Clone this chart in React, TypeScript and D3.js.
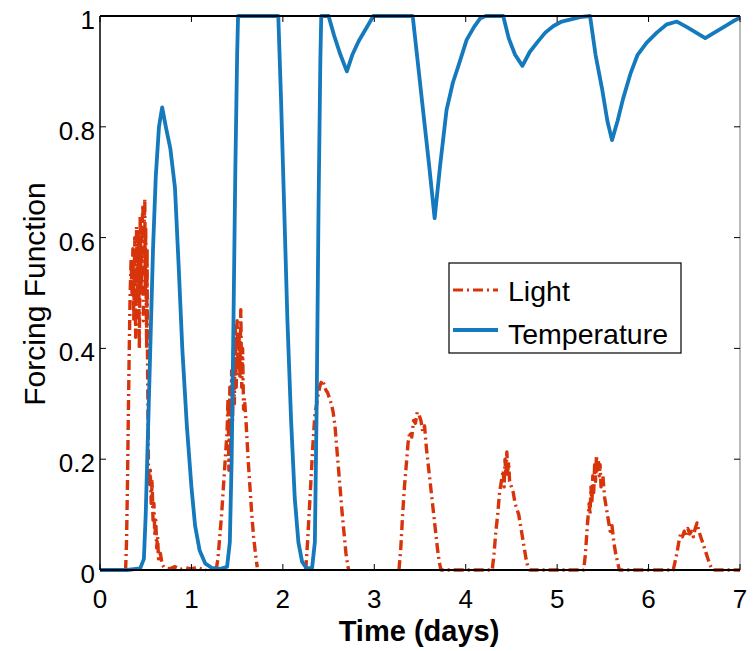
import React from 'react'
import * as d3 from 'd3'

// time in days, value of the forcing function
const tempPoints: [number, number][] = [
  [0, 0], [0.3, 0], [0.44, 0.003], [0.48, 0.02], [0.5, 0.1], [0.52, 0.22], [0.55, 0.4], [0.58, 0.58],
  [0.61, 0.71], [0.645, 0.8], [0.68, 0.835], [0.72, 0.8], [0.77, 0.76], [0.82, 0.69], [0.86, 0.55],
  [0.9, 0.4], [0.95, 0.26], [1.0, 0.15], [1.04, 0.08], [1.09, 0.035], [1.15, 0.012], [1.22, 0.004],
  [1.32, 0.002], [1.39, 0.006], [1.42, 0.05], [1.44, 0.2], [1.46, 0.45], [1.48, 0.72], [1.5, 0.93],
  [1.51, 1], [1.95, 1], [1.98, 0.85], [2.01, 0.68], [2.05, 0.45], [2.09, 0.27], [2.13, 0.13],
  [2.17, 0.05], [2.21, 0.015], [2.26, 0.003], [2.32, 0.004], [2.35, 0.05], [2.37, 0.3], [2.39, 0.65],
  [2.41, 0.92], [2.42, 1], [2.5, 1], [2.56, 0.965], [2.63, 0.93], [2.7, 0.9], [2.76, 0.93],
  [2.83, 0.955], [2.92, 0.98], [2.99, 1], [3.42, 1], [3.48, 0.91], [3.54, 0.82], [3.6, 0.73],
  [3.66, 0.635], [3.72, 0.73], [3.79, 0.83], [3.86, 0.88], [3.92, 0.91], [4.01, 0.957], [4.09, 0.98],
  [4.16, 0.996], [4.22, 1], [4.41, 1], [4.47, 0.96], [4.54, 0.93], [4.62, 0.91], [4.7, 0.935],
  [4.78, 0.952], [4.87, 0.97], [4.96, 0.982], [5.05, 0.99], [5.15, 0.994], [5.25, 0.998], [5.36, 1],
  [5.42, 0.93], [5.49, 0.87], [5.55, 0.81], [5.6, 0.776], [5.66, 0.81], [5.72, 0.85], [5.8, 0.895],
  [5.88, 0.93], [5.98, 0.952], [6.09, 0.97], [6.2, 0.985], [6.31, 0.99], [6.42, 0.98], [6.52, 0.97],
  [6.62, 0.96], [6.72, 0.97], [6.82, 0.98], [6.92, 0.99], [7.0, 0.997],
]

const lightPoints: [number, number | null][] = [
  // day 1
  [0.28, 0], [0.29, 0.05], [0.3, 0.15], [0.31, 0.28], [0.32, 0.4], [0.33, 0.5], [0.34, 0.56], [0.35, 0.5],
  [0.36, 0.58], [0.37, 0.45], [0.38, 0.6], [0.39, 0.42], [0.4, 0.62], [0.41, 0.48], [0.42, 0.61],
  [0.43, 0.4], [0.44, 0.64], [0.45, 0.5], [0.46, 0.62], [0.47, 0.66], [0.475, 0.45], [0.48, 0.6],
  [0.49, 0.67], [0.495, 0.5], [0.5, 0.62], [0.51, 0.4], [0.515, 0.58], [0.52, 0.37], [0.53, 0.19],
  [0.54, 0.15], [0.55, 0.18], [0.56, 0.12], [0.57, 0.16], [0.58, 0.09], [0.59, 0.12], [0.6, 0.06],
  [0.61, 0.09], [0.62, 0.04], [0.63, 0.06], [0.64, 0.02], [0.66, 0.03], [0.68, 0.01], [0.7, 0.005],
  [0.76, 0.002], [0.82, 0.006], [0.88, 0.001], [0.94, 0.004], [1.0, 0.002], [1.06, 0.005],
  [1.12, 0.001], [1.16, 0], [1.17, null],
  // day 2
  [1.27, 0], [1.29, 0.02], [1.31, 0.06], [1.33, 0.1], [1.35, 0.15], [1.37, 0.2], [1.39, 0.25],
  [1.4, 0.31], [1.41, 0.18], [1.42, 0.33], [1.43, 0.22], [1.44, 0.36], [1.45, 0.27], [1.46, 0.4],
  [1.47, 0.3], [1.48, 0.44], [1.49, 0.33], [1.5, 0.45], [1.51, 0.36], [1.52, 0.43], [1.53, 0.35],
  [1.54, 0.47], [1.55, 0.33], [1.56, 0.4], [1.57, 0.29], [1.58, 0.31], [1.6, 0.26], [1.62, 0.2],
  [1.64, 0.15], [1.66, 0.1], [1.68, 0.06], [1.7, 0.03], [1.72, 0.005], [1.73, null],
  // day 3
  [2.25, 0], [2.27, 0.05], [2.29, 0.11], [2.31, 0.17], [2.33, 0.23], [2.35, 0.28], [2.37, 0.3],
  [2.39, 0.32], [2.41, 0.335], [2.43, 0.343], [2.45, 0.335], [2.47, 0.325], [2.49, 0.32], [2.51, 0.31],
  [2.53, 0.3], [2.55, 0.285], [2.57, 0.26], [2.59, 0.22], [2.61, 0.18], [2.63, 0.14], [2.65, 0.1],
  [2.67, 0.065], [2.69, 0.03], [2.71, 0.008], [2.72, 0], [2.73, null],
  // day 4
  [3.27, 0], [3.29, 0.04], [3.31, 0.1], [3.33, 0.15], [3.35, 0.19], [3.37, 0.23], [3.39, 0.25],
  [3.41, 0.24], [3.43, 0.27], [3.45, 0.265], [3.47, 0.285], [3.49, 0.28], [3.51, 0.27], [3.53, 0.25],
  [3.55, 0.26], [3.57, 0.22], [3.59, 0.19], [3.61, 0.16], [3.63, 0.13], [3.65, 0.1], [3.67, 0.07],
  [3.69, 0.04], [3.71, 0.015], [3.73, 0],
  // day 5
  [4.29, 0], [4.31, 0.03], [4.33, 0.07], [4.35, 0.1], [4.37, 0.14], [4.39, 0.16], [4.41, 0.18],
  [4.42, 0.15], [4.43, 0.2], [4.44, 0.17], [4.45, 0.213], [4.46, 0.18], [4.47, 0.195], [4.48, 0.16],
  [4.5, 0.15], [4.52, 0.14], [4.54, 0.12], [4.56, 0.11], [4.58, 0.1], [4.6, 0.08], [4.62, 0.06],
  [4.64, 0.04], [4.66, 0.02], [4.68, 0.005], [4.7, 0],
  // day 6
  [5.29, 0], [5.31, 0.03], [5.33, 0.08], [5.35, 0.12], [5.36, 0.1], [5.37, 0.15], [5.38, 0.12],
  [5.39, 0.17], [5.4, 0.14], [5.41, 0.19], [5.42, 0.16], [5.43, 0.207], [5.44, 0.18], [5.45, 0.2],
  [5.46, 0.17], [5.47, 0.19], [5.48, 0.15], [5.5, 0.17], [5.52, 0.13], [5.54, 0.11], [5.56, 0.09],
  [5.58, 0.07], [5.6, 0.08], [5.62, 0.05], [5.64, 0.03], [5.66, 0.015], [5.68, 0],
  // day 7
  [6.27, 0], [6.29, 0.015], [6.31, 0.03], [6.33, 0.05], [6.35, 0.065], [6.37, 0.06], [6.39, 0.07],
  [6.41, 0.06], [6.43, 0.075], [6.45, 0.065], [6.47, 0.07], [6.49, 0.06], [6.51, 0.075], [6.53, 0.085],
  [6.55, 0.07], [6.57, 0.06], [6.59, 0.05], [6.61, 0.04], [6.63, 0.03], [6.65, 0.02], [6.67, 0.01],
  [6.69, 0.003], [6.71, 0], [7, 0],
]

const xTicks = [0, 1, 2, 3, 4, 5, 6, 7]
const yTicks = [0, 0.2, 0.4, 0.6, 0.8, 1]
const seriesNames = ['Light', 'Temperature']

const LIGHT = '#d8340c'
const TEMP = '#1479bd'
const FONT = '"Liberation Sans", Arial, Helvetica, sans-serif'

export default function App() {
  const width = 756, height = 651
  const margin = { top: 16, right: 16, bottom: 81, left: 100 }
  const x = d3.scaleLinear().domain([0, 7]).range([margin.left, width - margin.right])
  const y = d3.scaleLinear().domain([0, 1]).range([height - margin.bottom, margin.top])

  const tempLine = d3.line<[number, number]>()
    .x(d => x(d[0]))
    .y(d => y(d[1]))
  const lightLine = d3.line<[number, number | null]>()
    .defined(d => d[1] !== null)
    .x(d => x(d[0]))
    .y(d => y(d[1] as number))

  const x0 = x(0), x1 = x(7), y0 = y(0), y1 = y(1)
  const tick = 6

  // legend box
  const lg = { x: 449, y: 263, w: 232, h: 90 }

  return (
    <svg width={width} height={height} style={{ position: 'absolute', left: 0, top: 0, background: '#fff' }}
      fontFamily={FONT}>
      <rect x={0} y={0} width={width} height={height} fill="#fff" />
      <path d={lightLine(lightPoints) || ''} fill="none" stroke={LIGHT} strokeWidth={3.4}
        strokeDasharray="10,4,2,4" strokeLinejoin="round" />
      <path d={tempLine(tempPoints) || ''} fill="none" stroke={TEMP} strokeWidth={3.8}
        strokeLinejoin="round" />

      {/* axes box */}
      <line x1={x0} x2={x1} y1={y1} y2={y1} stroke="#000" strokeWidth={1.8} />
      <line x1={x1} x2={x1} y1={y1} y2={y0} stroke="#777" strokeWidth={1} />
      <line x1={x0} x2={x1} y1={y0} y2={y0} stroke="#000" strokeWidth={1.8} />
      <line x1={x0} x2={x0} y1={y1} y2={y0} stroke="#000" strokeWidth={1.5} />

      {xTicks.map(t => (
        <g key={'x' + t}>
          <line x1={x(t)} x2={x(t)} y1={y0} y2={y0 - tick} stroke="#000" />
          <line x1={x(t)} x2={x(t)} y1={y1} y2={y1 + tick} stroke="#000" />
          <text x={x(t)} y={608} textAnchor="middle" fontSize={26} fill="#000">{t}</text>
        </g>
      ))}
      {yTicks.map(t => (
        <g key={'y' + t}>
          <line x1={x0} x2={x0 + tick} y1={y(t)} y2={y(t)} stroke="#000" />
          <line x1={x1} x2={x1 - tick} y1={y(t)} y2={y(t)} stroke="#000" />
          <text x={x0 - 5} y={y(t) + 13} textAnchor="end" fontSize={26} fill="#000">{d3.format('~g')(t)}</text>
        </g>
      ))}

      <text x={(x0 + x1) / 2 - 1} y={641} textAnchor="middle" fontSize={29} fontWeight="bold" fill="#000">
        Time (days)
      </text>
      <text transform={`translate(45,${294}) rotate(-90)`} textAnchor="middle" fontSize={30} fill="#000">
        Forcing Function
      </text>

      {/* legend */}
      <rect x={lg.x} y={lg.y} width={lg.w} height={lg.h} fill="#fff" stroke="#000" strokeWidth={1.2} />
      <line x1={lg.x + 4} x2={lg.x + 49} y1={lg.y + 27} y2={lg.y + 27} stroke={LIGHT} strokeWidth={3.2}
        strokeDasharray="10,4,2,4" />
      <line x1={lg.x + 4} x2={lg.x + 49} y1={lg.y + 67} y2={lg.y + 67} stroke={TEMP} strokeWidth={3.8} />
      <text x={lg.x + 59} y={lg.y + 38} fontSize={28.5} fill="#000">{seriesNames[0]}</text>
      <text x={lg.x + 59} y={lg.y + 81} fontSize={28.5} fill="#000">{seriesNames[1]}</text>
    </svg>
  )
}
